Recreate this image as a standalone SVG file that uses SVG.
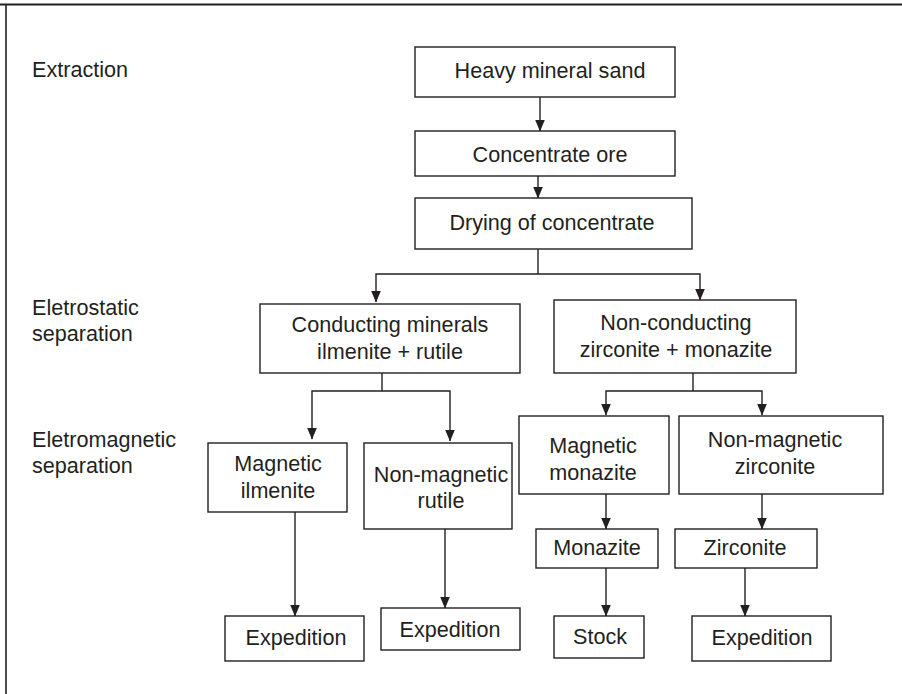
<svg xmlns="http://www.w3.org/2000/svg" width="902" height="694" viewBox="0 0 902 694">
<style>
.box{fill:#fff;stroke:#231f20;stroke-width:1.4}
.t{font-family:"Liberation Sans",Arial,sans-serif;font-size:21.6px;fill:#231f20;text-anchor:middle}
.lbl{font-family:"Liberation Sans",Arial,sans-serif;font-size:21.6px;fill:#231f20}
.ln{fill:none;stroke:#231f20;stroke-width:1.4}
.ar{fill:none;stroke:#231f20;stroke-width:1.4;marker-end:url(#ah)}
</style>
<defs>
<marker id="ah" viewBox="0 0 12 10" refX="11.5" refY="5" markerWidth="12" markerHeight="10" orient="auto" markerUnits="userSpaceOnUse">
<path d="M0,0 L12,5 L0,10 Z" fill="#231f20"/>
</marker>
</defs>
<rect width="902" height="694" fill="#fff"/>
<g id="frame">
<line x1="0" y1="4.5" x2="902" y2="4.5" stroke="#231f20" stroke-width="2"/>
<line x1="6" y1="4" x2="6" y2="694" stroke="#231f20" stroke-width="1.6"/>
</g>
<g id="stage-labels">
<text class="lbl" x="32" y="77">Extraction</text>
<text class="lbl" x="32" y="315">Eletrostatic</text>
<text class="lbl" x="32" y="341">separation</text>
<text class="lbl" x="32" y="447">Eletromagnetic</text>
<text class="lbl" x="32" y="473">separation</text>
</g>
<g id="connectors">
<path class="ar" d="M540,97 V131"/>
<path class="ar" d="M538,176 V198"/>
<path class="ln" d="M538,249 V274"/>
<path class="ar" d="M538,274 H376 V302"/>
<path class="ar" d="M538,274 H700 V300"/>
<path class="ln" d="M382,373 V391"/>
<path class="ar" d="M382,391 H312 V439"/>
<path class="ar" d="M382,391 H450 V441"/>
<path class="ln" d="M693,373 V391"/>
<path class="ar" d="M693,391 H606 V415"/>
<path class="ar" d="M693,391 H762 V415"/>
<path class="ar" d="M295,512 V616"/>
<path class="ar" d="M445,529 V608"/>
<path class="ar" d="M606,494 V529"/>
<path class="ar" d="M762,494 V529"/>
<path class="ar" d="M606,568 V616"/>
<path class="ar" d="M745,568 V616"/>
</g>
<g id="n-heavy"><rect class="box" x="415" y="47" width="260" height="50"/><text class="t" x="550" y="78">Heavy mineral sand</text></g>
<g id="n-concentrate"><rect class="box" x="415" y="131" width="260" height="45"/><text class="t" x="550" y="162">Concentrate ore</text></g>
<g id="n-drying"><rect class="box" x="415" y="198" width="277" height="51"/><text class="t" x="552" y="230">Drying of concentrate</text></g>
<g id="n-conducting"><rect class="box" x="260" y="304" width="260" height="69"/><text class="t" x="390" y="332">Conducting minerals</text><text class="t" x="390" y="359">ilmenite + rutile</text></g>
<g id="n-nonconducting"><rect class="box" x="554" y="300" width="242" height="73"/><text class="t" x="676" y="330">Non-conducting</text><text class="t" x="676" y="357">zirconite + monazite</text></g>
<g id="n-mag-ilmenite"><rect class="box" x="208" y="443" width="139" height="69"/><text class="t" x="278" y="471">Magnetic</text><text class="t" x="278" y="498">ilmenite</text></g>
<g id="n-nonmag-rutile"><rect class="box" x="364" y="443" width="148" height="86"/><text class="t" x="441" y="482">Non-magnetic</text><text class="t" x="441" y="508">rutile</text></g>
<g id="n-mag-monazite"><rect class="box" x="519" y="416" width="150" height="78"/><text class="t" x="593" y="453">Magnetic</text><text class="t" x="593" y="480">monazite</text></g>
<g id="n-nonmag-zirconite"><rect class="box" x="679" y="416" width="204" height="78"/><text class="t" x="775" y="447">Non-magnetic</text><text class="t" x="775" y="474">zirconite</text></g>
<g id="n-monazite"><rect class="box" x="536" y="529" width="122" height="39"/><text class="t" x="597" y="555">Monazite</text></g>
<g id="n-zirconite"><rect class="box" x="675" y="529" width="142" height="39"/><text class="t" x="745" y="555">Zirconite</text></g>
<g id="n-exp1"><rect class="box" x="225" y="616" width="139" height="45"/><text class="t" x="296" y="645">Expedition</text></g>
<g id="n-exp2"><rect class="box" x="381" y="608" width="139" height="42"/><text class="t" x="450" y="637">Expedition</text></g>
<g id="n-stock"><rect class="box" x="554" y="616" width="90" height="42"/><text class="t" x="600" y="644">Stock</text></g>
<g id="n-exp3"><rect class="box" x="692" y="616" width="139" height="45"/><text class="t" x="762" y="645">Expedition</text></g>
</svg>
